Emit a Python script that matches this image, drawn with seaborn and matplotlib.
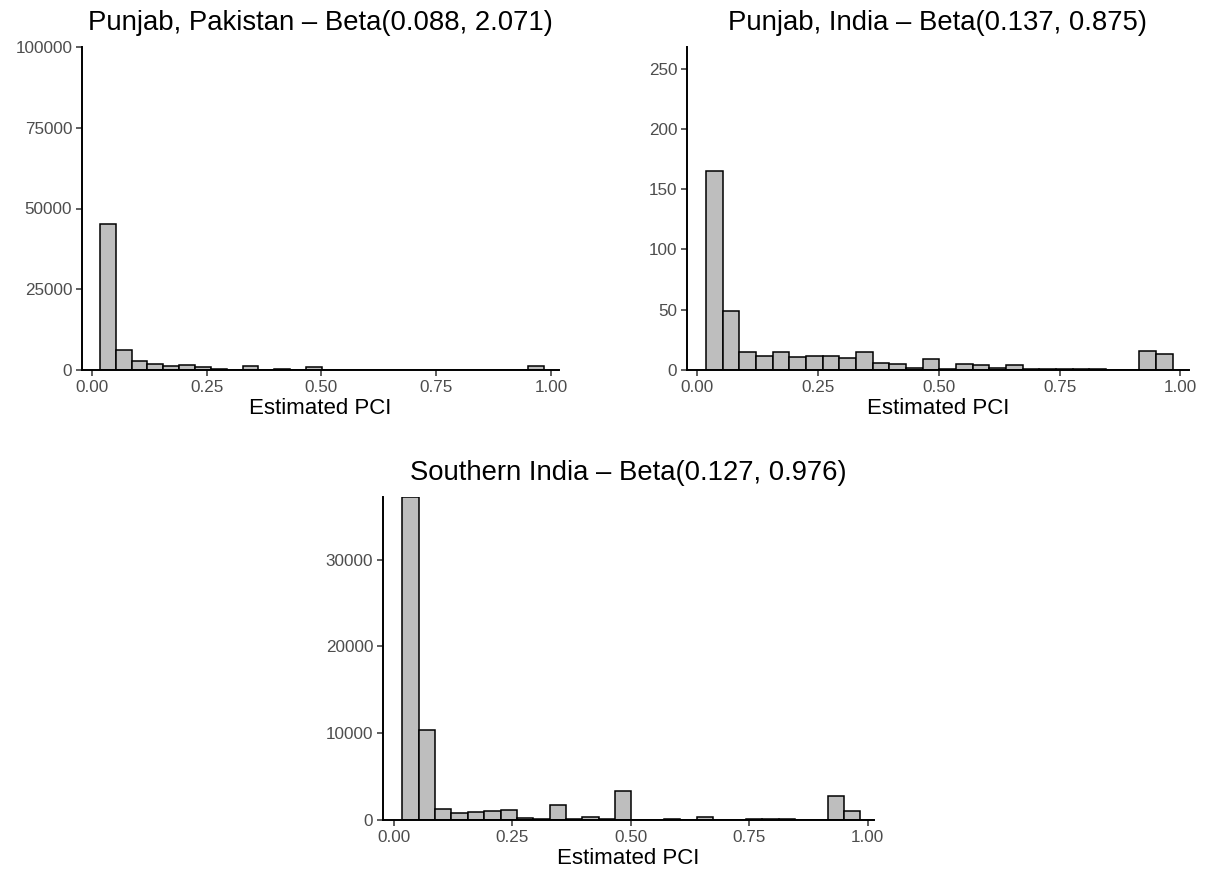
import numpy as np
import pandas as pd
import matplotlib
matplotlib.use("Agg")
import matplotlib.pyplot as plt
import seaborn as sns

# ---------------- data ----------------
bin_edges = np.linspace(0.018, 0.984, 29)  # 28 bins of width ~0.0345
bin_centers = (bin_edges[:-1] + bin_edges[1:]) / 2

pakistan_title = "Punjab, Pakistan \u2013 Beta(0.088, 2.071)"
pakistan_counts = [45100, 6300, 2790, 1960, 1340, 1440, 930, 300, 150, 1130,
                   50, 350, 50, 1030, 30, 30, 150, 30, 150, 30,
                   60, 30, 30, 30, 30, 30, 10, 1240]
pakistan_yticks = [0, 25000, 50000, 75000, 100000]
pakistan_ymax = 100000

india_title = "Punjab, India \u2013 Beta(0.137, 0.875)"
india_counts = [165, 49, 15, 12, 15, 11, 12, 12, 10, 15,
                6, 5, 2, 9, 1, 5, 4, 2, 4, 1,
                1, 1, 1, 1, 0, 0, 16, 13]
india_yticks = [0, 50, 100, 150, 200, 250]
india_ymax = 268

south_title = "Southern India \u2013 Beta(0.127, 0.976)"
south_counts = [37200, 10400, 1230, 850, 880, 1080, 1100, 200, 90, 1700,
                80, 400, 70, 3350, 40, 40, 150, 40, 400, 40,
                40, 150, 60, 60, 30, 30, 2750, 980]
south_yticks = [0, 10000, 20000, 30000]
south_ymax = 37200

xticks = [0.0, 0.25, 0.5, 0.75, 1.0]
xticklabels = ["0.00", "0.25", "0.50", "0.75", "1.00"]
xlabel = "Estimated PCI"

# ---------------- style ----------------
sns.set_style("ticks")
plt.rcParams["font.family"] = ["Liberation Sans", "DejaVu Sans"]

W, H = 1217, 876
fig = plt.figure(figsize=(W / 100, H / 100), dpi=100)

def frac(l, t, r, b):
    return [l / W, 1 - b / H, (r - l) / W, (b - t) / H]

ax1 = fig.add_axes(frac(82, 47, 559, 370))
ax2 = fig.add_axes(frac(687, 47, 1189, 370))
ax3 = fig.add_axes(frac(383, 497, 874, 820))

panels = [
    (ax1, pakistan_counts, pakistan_title, pakistan_yticks, pakistan_ymax, (-0.021, 1.017)),
    (ax2, india_counts, india_title, india_yticks, india_ymax, (-0.021, 1.018)),
    (ax3, south_counts, south_title, south_yticks, south_ymax, (-0.023, 1.013)),
]

for ax, counts, title, yticks, ymax, xlim in panels:
    df = pd.DataFrame({"pci": bin_centers, "count": np.asarray(counts, dtype=float)})
    sns.histplot(data=df, x="pci", weights="count", bins=list(bin_edges), ax=ax,
                 color="#BEBEBE", edgecolor="black", linewidth=1.1, alpha=1.0)
    ax.set_xlim(*xlim)
    ax.set_ylim(0, ymax)
    ax.set_xticks(xticks)
    ax.set_xticklabels(xticklabels)
    ax.set_yticks(yticks)
    ax.set_yticklabels([str(v) for v in yticks])
    ax.set_ylabel("")
    ax.set_xlabel(xlabel, fontsize=16, color="black", labelpad=2)
    ax.set_title(title, fontsize=19.8, color="black", pad=12)
    ax.tick_params(axis="both", labelsize=12.3, labelcolor="#4D4D4D",
                   color="#333333", length=4, width=1.1, pad=3)
    for side in ["top", "right"]:
        ax.spines[side].set_visible(False)
    for side in ["left", "bottom"]:
        ax.spines[side].set_linewidth(1.4)
        ax.spines[side].set_color("black")
    ax.grid(False)

fig.savefig("out.png", dpi=100)
